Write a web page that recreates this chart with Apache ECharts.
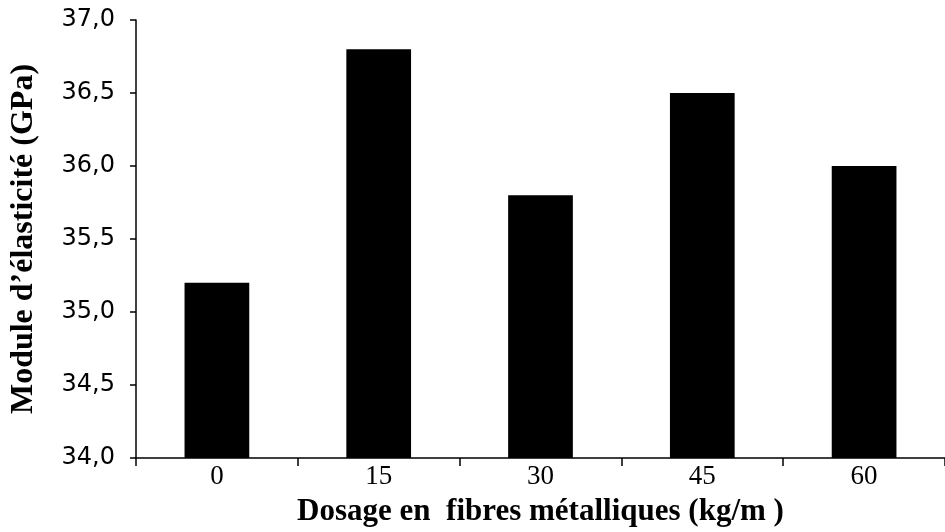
<!DOCTYPE html>
<html>
<head>
<meta charset="utf-8">
<script src="https://cdn.jsdelivr.net/npm/echarts@6/dist/echarts.min.js"></script>
<style>html,body{margin:0;padding:0;background:#fff}#c{width:945px;height:532px}</style>
</head>
<body>
<div id="c"></div>
<script>
var categories = ['0', '15', '30', '45', '60'];
var values = [35.2, 36.8, 35.8, 36.5, 36.0];
var yMin = 34.0, yMax = 37.0, yStep = 0.5;
var xTitle = 'Dosage en  fibres métalliques (kg/m )';
var yTitle = 'Module d\u2019élasticité (GPa)';

var chart = echarts.init(document.getElementById('c'));
chart.setOption({
  animation: false,
  backgroundColor: '#fff',
  grid: { left: 135, right: -7, top: 20, bottom: 72 },
  xAxis: {
    type: 'category',
    data: categories,
    name: xTitle,
    nameLocation: 'middle',
    nameGap: 38,
    nameTextStyle: { fontFamily: 'Liberation Serif', fontWeight: 'bold', fontSize: 31, color: '#000' },
    axisLine: { lineStyle: { color: '#000', width: 1.5 } },
    axisTick: { show: true, length: 8, lineStyle: { color: '#000', width: 1.5 } },
    axisLabel: { fontFamily: 'Liberation Serif', fontSize: 27, color: '#000', margin: 5 }
  },
  yAxis: {
    type: 'value',
    min: yMin, max: yMax, interval: yStep,
    name: yTitle,
    nameLocation: 'middle',
    nameGap: 96,
    nameRotate: 90,
    nameTextStyle: { fontFamily: 'Liberation Serif', fontWeight: 'bold', fontSize: 32, color: '#000' },
    splitLine: { show: false },
    axisLine: { show: true, lineStyle: { color: '#000', width: 1.5 } },
    axisTick: { show: true, length: 6, lineStyle: { color: '#000', width: 1.5 } },
    axisLabel: {
      fontFamily: 'DejaVu Sans', fontSize: 24, color: '#000', margin: 21,
      formatter: function (v) { return v.toFixed(1).replace('.', ','); }
    }
  },
  series: [{
    type: 'bar',
    data: values,
    barWidth: '40%',
    itemStyle: { color: '#000' }
  }]
});
</script>
</body>
</html>
